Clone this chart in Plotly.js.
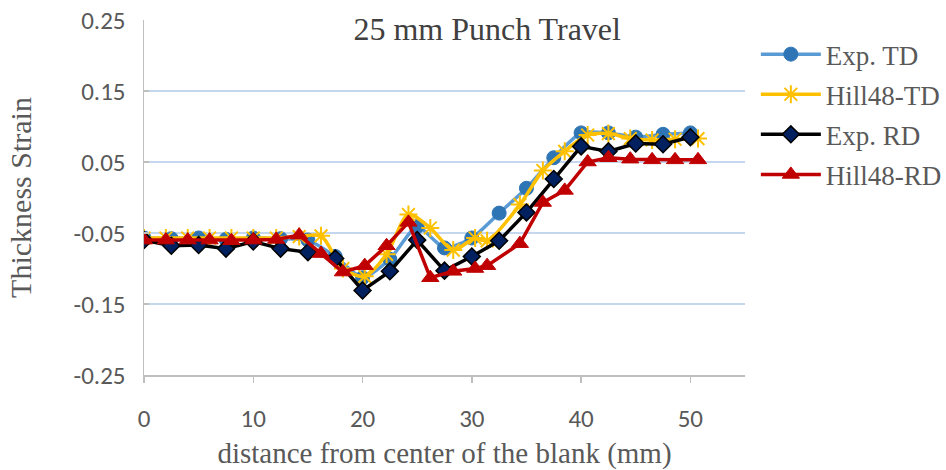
<!DOCTYPE html>
<html>
<head>
<meta charset="utf-8">
<script src="https://cdn.plot.ly/plotly-3.0.1.min.js"></script>
<style>html,body{margin:0;padding:0;background:#fff;}#chart{width:946px;height:470px;}</style>
</head>
<body>
<div id="chart"></div>
<script>
// Experimental measurement positions (mm)
const expX = [0, 2.5, 5, 7.5, 10, 12.5, 15, 17.5, 20, 22.5, 25, 27.5, 30, 32.5, 35, 37.5, 40, 42.5, 45, 47.5, 50];
const expTD = [-0.057, -0.058, -0.057, -0.059, -0.057, -0.058, -0.06, -0.083, -0.113, -0.087, -0.041, -0.071, -0.057, -0.022, 0.013, 0.056, 0.091, 0.091, 0.085, 0.089, 0.091];
const expRD = [-0.06, -0.068, -0.067, -0.072, -0.062, -0.072, -0.077, -0.086, -0.131, -0.104, -0.06, -0.103, -0.083, -0.061, -0.021, 0.026, 0.072, 0.065, 0.076, 0.075, 0.085];
// Simulation node positions (mm)
const hillX = [0, 2, 4, 6, 8, 10, 12.1, 14.2, 16.2, 18.2, 20.2, 22.2, 24.2, 26.2, 28.3, 30.3, 31.4, 34.4, 36.5, 38.5, 40.6, 42.5, 44.5, 46.5, 48.6, 50.7];
const hillTD = [-0.057, -0.057, -0.057, -0.057, -0.057, -0.057, -0.057, -0.055, -0.054, -0.1, -0.111, -0.08, -0.024, -0.043, -0.074, -0.057, -0.061, -0.01, 0.038, 0.065, 0.088, 0.09, 0.083, 0.081, 0.082, 0.083];
const hillRD = [-0.06, -0.06, -0.06, -0.06, -0.061, -0.06, -0.059, -0.053, -0.079, -0.105, -0.096, -0.068, -0.035, -0.113, -0.104, -0.1, -0.096, -0.065, -0.007, 0.01, 0.05, 0.056, 0.054, 0.053, 0.053, 0.053];

const seriesNames = ['Exp. TD', 'Hill48-TD', 'Exp. RD', 'Hill48-RD'];
const yTickVals = [-0.25, -0.15, -0.05, 0.05, 0.15, 0.25];
const yTickText = ['-0.25', '-0.15', '-0.05', '0.05', '0.15', '0.25'];
const yGridVals = [-0.15, -0.05, 0.05, 0.15];
const xTickVals = [0, 10, 20, 30, 40, 50];

const serif = 'Liberation Serif, Times New Roman, serif';
const sans = 'Carlito, Liberation Sans Narrow, Liberation Sans, sans-serif';

const traces = [
  {x: expX, y: expTD, name: seriesNames[0], mode: 'lines+markers', legendgroup: 'a',
   line: {color: '#5B9BD5', width: 3.5, shape: 'spline', smoothing: 0.6},
   marker: {symbol: 'circle', size: 14, color: '#2E75B6', line: {color: '#2E75B6', width: 1}}},
  {x: hillX, y: hillTD, name: seriesNames[1], mode: 'lines+markers', legendgroup: 'b',
   line: {color: '#FFC000', width: 3.5, shape: 'spline', smoothing: 0.8},
   marker: {symbol: 'asterisk-open', size: 15, color: '#FFC000', line: {color: '#FFC000', width: 2}}},
  {x: expX, y: expRD, name: seriesNames[2], mode: 'lines+markers', legendgroup: 'c',
   line: {color: '#000000', width: 3.5},
   marker: {symbol: 'diamond', size: 13, color: '#002060', line: {color: '#000000', width: 1.5}}},
  {x: hillX, y: hillRD, name: seriesNames[3], mode: 'lines+markers', legendgroup: 'd',
   line: {color: '#C00000', width: 3.5},
   marker: {symbol: 'triangle-up', size: 15, color: '#C00000', line: {color: '#C00000', width: 1}}},
  // invisible helper on overlay axis for gridlines only
  {x: [0], y: [0], yaxis: 'y2', mode: 'markers', showlegend: false, hoverinfo: 'skip',
   marker: {opacity: 0, size: 1}}
];

const layout = {
  width: 946, height: 470,
  margin: {l: 144, r: 201, t: 20, b: 95},
  paper_bgcolor: '#ffffff', plot_bgcolor: 'rgba(0,0,0,0)',
  showlegend: true,
  title: {text: '25 mm Punch Travel', font: {family: serif, size: 32, color: '#404040'},
          xref: 'paper', x: 0.571, xanchor: 'center', yref: 'paper', y: 0.975, yanchor: 'middle'},
  xaxis: {
    range: [0, 55], tickvals: xTickVals, ticktext: xTickVals.map(String),
    showgrid: false, zeroline: false, automargin: false,
    showline: true, linecolor: '#BFBFBF', linewidth: 1.5,
    ticks: 'outside', ticklen: 6, tickcolor: '#BFBFBF', tickwidth: 1.5,
    ticklabelstandoff: 14,
    tickfont: {family: sans, size: 25, color: '#595959'},
    title: {text: 'distance from center of the blank (mm)', font: {family: serif, size: 29, color: '#595959'}, standoff: 12}
  },
  yaxis: {
    range: [-0.25, 0.25], tickvals: yTickVals, ticktext: yTickText,
    showgrid: false, zeroline: false, automargin: false,
    showline: true, linecolor: '#BFBFBF', linewidth: 1.5,
    ticks: 'inside', ticklen: 5, tickcolor: '#BFBFBF', tickwidth: 1.5,
    ticklabelstandoff: 12,
    tickfont: {family: sans, size: 25, color: '#595959'},
    title: {text: 'Thickness Strain', font: {family: serif, size: 30, color: '#595959'}, standoff: 33}
  },
  yaxis2: {
    overlaying: 'y', range: [-0.25, 0.25], tickvals: yGridVals,
    showgrid: true, gridcolor: '#C5D7EE', gridwidth: 1.5,
    showticklabels: false, zeroline: false, showline: false, ticks: ''
  },
  legend: {
    xref: 'container', x: 0.799, xanchor: 'left', yref: 'container', y: 0.936, yanchor: 'top',
    font: {family: serif, size: 27, color: '#595959'},
    traceorder: 'grouped', tracegroupgap: 2, itemwidth: 60,
    bgcolor: 'rgba(0,0,0,0)'
  }
};

Plotly.newPlot('chart', traces, layout, {displayModeBar: false, staticPlot: true});
</script>
</body>
</html>
